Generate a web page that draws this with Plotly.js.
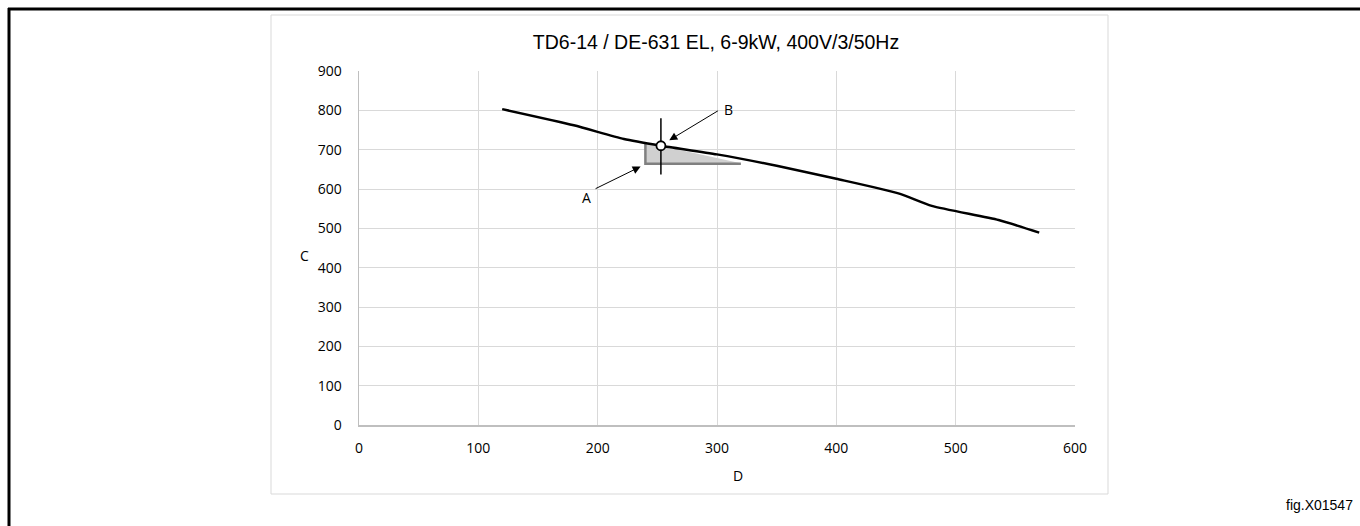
<!DOCTYPE html>
<html>
<head>
<meta charset="utf-8">
<script src="https://cdn.plot.ly/plotly-3.0.1.min.js"></script>
<style>
html,body{margin:0;padding:0;background:#fff;}
#chart{width:1360px;height:526px;}
</style>
</head>
<body>
<div id="chart"></div>
<script>
// Main curve (D vs C)
const curveX = [120, 180, 222, 253, 300, 350, 400, 452, 480, 536, 570];
const curveY = [803, 762, 727, 710, 688, 659, 626, 589, 557, 521, 489];

// Operating point B
const pointX = [253];
const pointY = [710];

// Crosshair through point
const crossX = [253, 253];
const crossY = [637, 780];

// Shaded tolerance area A
const shadeX = [240, 253, 318, 320, 240, 240];
const shadeY = [717, 710, 667, 664, 664, 717];
const shadeEdgeX = [240, 240, 320];
const shadeEdgeY = [717, 664, 664];

const xTicks = [0, 100, 200, 300, 400, 500, 600];
const yTicks = [0, 100, 200, 300, 400, 500, 600, 700, 800, 900];

const titleText = 'TD6-14 / DE-631 EL, 6-9kW, 400V/3/50Hz';
const xLabel = 'D';
const yLabel = 'C';
const figLabel = 'fig.X01547';

// plot area pixel geometry
const L = 359, R = 1075, T = 71, B = 425, W = 1360, H = 526;
const px = v => (v - L) / (R - L);
const py = v => (B - v) / (B - T);

const traces = [
  {x: shadeX, y: shadeY, mode: 'lines', fill: 'toself', fillcolor: '#d0d0d0',
   line: {width: 0, color: 'rgba(0,0,0,0)'}, hoverinfo: 'skip', showlegend: false},
  {x: shadeEdgeX, y: shadeEdgeY, mode: 'lines', line: {color: '#808080', width: 2.5},
   hoverinfo: 'skip', showlegend: false},
  {x: curveX, y: curveY, mode: 'lines', line: {color: '#000', width: 2.5, shape: 'spline', smoothing: 0.6},
   showlegend: false},
  {x: crossX, y: crossY, mode: 'lines', line: {color: '#000', width: 1.5}, showlegend: false},
  {x: pointX, y: pointY, mode: 'markers', marker: {size: 9, color: '#fff', line: {color: '#000', width: 1.8}},
   showlegend: false}
];

const tickFont = {family: 'Open Sans, Arial, sans-serif', size: 14, color: '#000'};

const layout = {
  width: W, height: H,
  margin: {l: L, r: W - R, t: T, b: H - B, pad: 0},
  paper_bgcolor: '#fff', plot_bgcolor: '#fff',
  showlegend: false,
  title: {text: titleText, xref: 'container', yref: 'container', x: 716 / W, xanchor: 'center',
          y: 1 - 42 / H, yanchor: 'middle',
          font: {family: 'Liberation Sans, Arial, sans-serif', size: 19.5, color: '#000'}},
  xaxis: {range: [0, 600], tickvals: xTicks, ticktext: xTicks.map(String),
          showgrid: true, gridcolor: '#d9d9d9', gridwidth: 1, zeroline: false,
          showline: true, linecolor: '#bfbfbf', linewidth: 1.5,
          ticks: 'outside', ticklen: 10, tickcolor: 'rgba(0,0,0,0)', tickfont: tickFont, fixedrange: true},
  yaxis: {range: [0, 900], tickvals: yTicks, ticktext: yTicks.map(String),
          showgrid: true, gridcolor: '#d9d9d9', gridwidth: 1, zeroline: false,
          showline: true, linecolor: '#bfbfbf', linewidth: 1.5,
          ticks: 'outside', ticklen: 13, tickcolor: 'rgba(0,0,0,0)', tickfont: tickFont, fixedrange: true},
  shapes: [
    // inner chart box
    {type: 'rect', xref: 'paper', yref: 'paper', x0: px(271), x1: px(1108), y0: py(494), y1: py(15),
     line: {color: '#d9d9d9', width: 1}, fillcolor: 'rgba(0,0,0,0)', layer: 'below'},
    // outer frame top and left
    {type: 'line', xref: 'paper', yref: 'paper', x0: px(8), x1: px(1362), y0: py(9), y1: py(9),
     line: {color: '#000', width: 3}},
    {type: 'line', xref: 'paper', yref: 'paper', x0: px(9), x1: px(9), y0: py(8), y1: py(530),
     line: {color: '#000', width: 3}}
  ],
  annotations: [
    {x: 260, y: 724, xref: 'x', yref: 'y', ax: 302, ay: 801, axref: 'x', ayref: 'y', text: '',
     showarrow: true, arrowhead: 2, arrowsize: 1.6, arrowwidth: 1, arrowcolor: '#000', standoff: 0},
    {x: 236, y: 657, xref: 'x', yref: 'y', ax: 197, ay: 599, axref: 'x', ayref: 'y', text: '',
     showarrow: true, arrowhead: 2, arrowsize: 1.6, arrowwidth: 1, arrowcolor: '#000', standoff: 0},
    {x: 310, y: 801, xref: 'x', yref: 'y', text: 'B', showarrow: false, font: tickFont},
    {x: 191, y: 579, xref: 'x', yref: 'y', text: 'A', showarrow: false, font: tickFont},
    {x: px(298), y: py(255), xref: 'paper', yref: 'paper', yanchor: 'middle', text: yLabel, showarrow: false, font: tickFont},
    {x: px(738), y: py(475), xref: 'paper', yref: 'paper', yanchor: 'middle', text: xLabel, showarrow: false, font: tickFont},
    {x: px(1355), y: py(505), xref: 'paper', yref: 'paper', xanchor: 'right', yanchor: 'middle', text: figLabel, showarrow: false,
     font: {family: 'Liberation Sans, Arial, sans-serif', size: 14, color: '#000'}}
  ]
};

Plotly.newPlot('chart', traces, layout, {displayModeBar: false, staticPlot: true});
</script>
</body>
</html>
